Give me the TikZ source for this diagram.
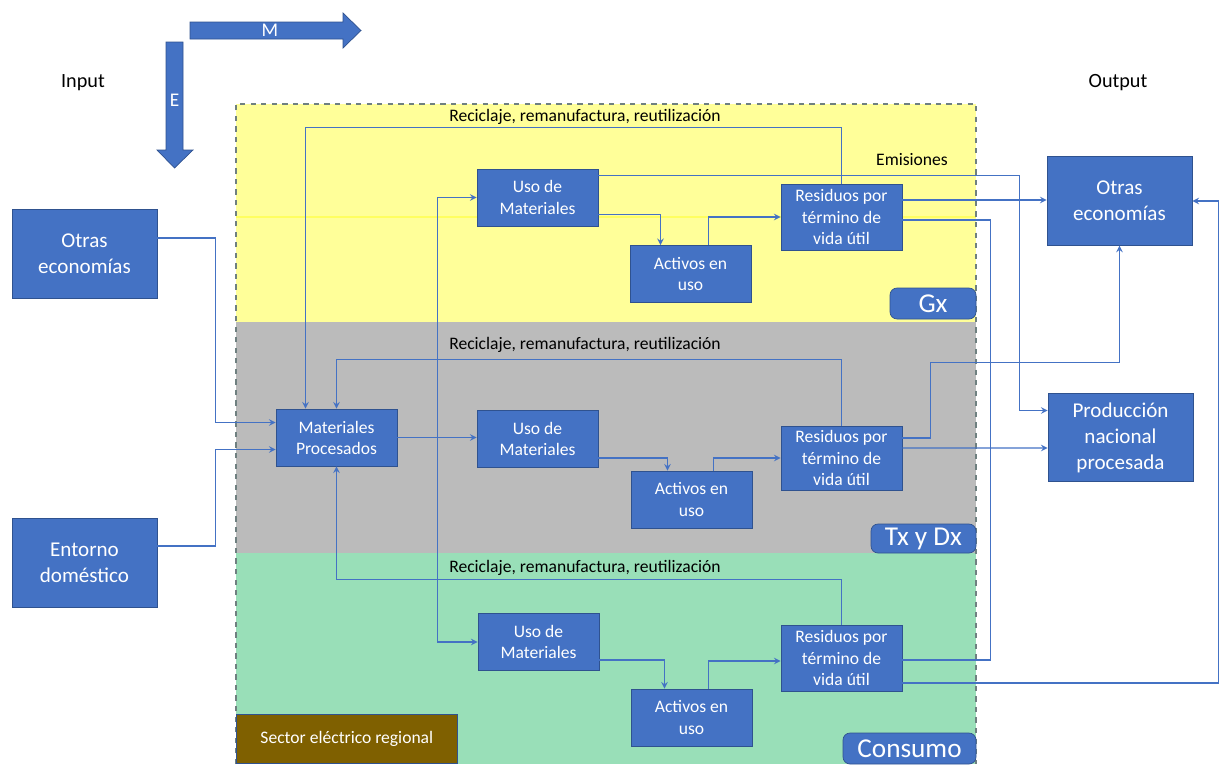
\documentclass[tikz,border=0pt]{standalone}
\usepackage{fontspec}
\setmainfont{Carlito}
\usetikzlibrary{arrows, calc, positioning}
\definecolor{boxblue}{HTML}{4472C4}
\definecolor{boxborder}{HTML}{2F528F}
\definecolor{bandyellow}{HTML}{FFFF99}
\definecolor{bandgray}{HTML}{BBBBBB}
\definecolor{bandgreen}{HTML}{99DFB8}
\definecolor{sectorbrown}{HTML}{7F6000}
\definecolor{dashgray}{HTML}{6F8080}
\definecolor{bandline}{HTML}{FFFF60}
\tikzset{
    proc/.style={draw=boxborder, fill=boxblue, text=white, align=center, inner sep=1pt,
        minimum width=2.42cm, minimum height=1.14cm, font=\fontsize{10}{12}\selectfont}, % cajas de proceso
    ext/.style={draw=boxborder, fill=boxblue, text=white, align=center, inner sep=1pt,
        minimum width=2.9cm, minimum height=1.77cm, font=\fontsize{12}{14.8}\selectfont}, % entradas y salidas
    tag/.style={draw=boxborder, fill=boxblue, text=white, rounded corners=4pt, inner sep=0pt,
        font=\fontsize{15.5}{18}\selectfont}, % etiquetas de los sectores
    reci/.style={font=\fontsize{10}{12}\selectfont},
}
\tikzstyle{flow} = [draw=boxblue, line width=0.7pt, ->, >=stealth]
\tikzstyle{link} = [draw=boxblue, line width=0.7pt]

\begin{document}
\begin{tikzpicture}[x=0.02cm, y=-0.02cm]
    \useasboundingbox (0,0) rectangle (1219,764);

    % Franjas del sector electrico
    \fill[bandyellow] (236,104) rectangle (976,322);
    \fill[bandgray] (236,322) rectangle (976,553);
    \fill[bandgreen] (236,553) rectangle (976,764);
    \draw[bandline, line width=0.6pt] (236,217) -- (976,217);
    \draw[dashgray, dashed, line width=0.8pt] (236,764) -- (236,104) -- (976,104) -- (976,764);

    % Flechas M y E
    \filldraw[fill=boxblue, draw=boxborder] (190,22) -- (343,22) -- (343,13) -- (361,30.5)
        -- (343,48) -- (343,39) -- (190,39) -- cycle;
    \node[text=white, font=\fontsize{11}{13}\selectfont] (mlabel) at (270,30.5) {M};
    \filldraw[fill=boxblue, draw=boxborder] (166,42) -- (183,42) -- (183,150) -- (193,150)
        -- (174.5,168) -- (157,150) -- (166,150) -- cycle;
    \node[text=white, font=\fontsize{11}{13}\selectfont] (elabel) at (174.5,100) {E};

    \node[font=\fontsize{11.5}{14}\selectfont] (input) at (83,83) {Input};
    \node[font=\fontsize{11.5}{14}\selectfont] (output) at (1118,83) {Output};

    % Entradas y salidas
    \node[ext] (otrasIn) at (84.5,254) {Otras\\economías};
    \node[ext] (entorno) at (84.5,563) {Entorno\\doméstico};
    \node[ext] (otrasOut) at (1119.5,201) {Otras\\economías};
    \node[ext] (prodNac) at (1120.5,437.5) {Producción\\nacional\\procesada};

    % Gx
    \node[proc] (usoG) at (537.5,197.5) {Uso de\\Materiales};
    \node[proc] (actG) at (690.5,274) {Activos en\\uso};
    \node[proc, minimum height=1.32cm] (resG) at (841.5,217) {Residuos por\\término de\\vida útil};
    \node[reci] (reciG) at (585,117) {Reciclaje, remanufactura, reutilización};
    \node[reci] (emis) at (912,160) {Emisiones};
    \node[tag, minimum width=1.72cm, minimum height=0.62cm] (gx) at (933,303.5) {Gx};

    % Tx y Dx
    \node[proc] (matProc) at (336.5,437.5) {Materiales\\Procesados};
    \node[proc] (usoT) at (537.5,439) {Uso de\\Materiales};
    \node[proc] (actT) at (691.5,499.5) {Activos en\\uso};
    \node[proc, minimum height=1.28cm] (resT) at (841.5,458) {Residuos por\\término de\\vida útil};
    \node[reci] (reciT) at (585,345) {Reciclaje, remanufactura, reutilización};
    \node[tag, minimum width=2.1cm, minimum height=0.58cm] (txdx) at (923.5,538.5) {Tx y Dx};

    % Consumo
    \node[proc] (usoC) at (538.5,642) {Uso de\\Materiales};
    \node[proc] (actC) at (691.5,717.5) {Activos en\\uso};
    \node[proc, minimum height=1.32cm] (resC) at (841.5,658) {Residuos por\\término de\\vida útil};
    \node[reci] (reciC) at (585,568) {Reciclaje, remanufactura, reutilización};
    \node[tag, minimum width=2.66cm, minimum height=0.62cm] (consumo) at (909.5,748.5) {Consumo};
    \node[draw=boxborder, fill=sectorbrown, text=white, anchor=south west, minimum width=4.42cm,
        minimum height=0.98cm, font=\fontsize{10}{12}\selectfont] (sector) at (236,764) {Sector eléctrico regional};

    % Entradas a materiales procesados
    \draw[flow] ($(otrasIn.east)+(0,-16)$) -| ($(matProc.west)+(-60,-15)$) -- ($(matProc.west)+(0,-15)$);
    \draw[flow] ($(entorno.east)+(0,-17)$) -| ($(matProc.west)+(-60,12)$) -- ($(matProc.west)+(0,12)$);
    \draw[flow] (matProc.east) -- (matProc.east -| usoT.west);
    \coordinate (split) at ($(matProc.east)+(40,0)$);
    \draw[flow] (split) |- (usoG.west);
    \draw[flow] (split) |- (usoC.west);

    % Cadenas uso - activos - residuos
    \draw[flow] ($(usoG.east)+(0,17)$) -| ($(actG.north)+(-30,0)$);
    \draw[flow] ($(actG.north)+(18,0)$) |- (resG.west);
    \draw[flow] ($(usoT.east)+(0,19)$) -| ($(actT.north)+(-24,0)$);
    \draw[flow] ($(actT.north)+(22,0)$) |- (resT.west);
    \draw[flow] ($(usoC.east)+(0,18)$) -| ($(actC.north)+(-27,0)$);
    \draw[flow] ($(actC.north)+(17,0)$) |- ($(resC.west)+(0,3)$);

    % Reciclaje
    \draw[flow] (resG.north) -- ++(0,-56) -| ($(matProc.north)+(-31,0)$);
    \draw[flow] (resT.north) -- ++(0,-66) -| (matProc.north);
    \draw[flow] (resC.north) -- ++(0,-45) -| (matProc.south);

    % Salidas
    \draw[flow] ($(usoG.north east)+(0,7)$) -| ($(prodNac.west)+(-28,-27)$) -- ($(prodNac.west)+(0,-27)$);
    \draw[flow] ($(resG.east)+(0,-17)$) -- ($(otrasOut.west)+(0,-1)$);
    \draw[link] ($(resG.east)+(0,3)$) -- ++(88,0) |- ($(resC.east)+(0,2)$);
    \draw[flow] ($(resC.east)+(0,25)$) -- ++(316,0) |- (otrasOut.east);
    \draw[flow] ($(resT.east)+(0,-20)$) -- ++(28,0) |- ($(otrasOut.south)+(0,117)$) -- (otrasOut.south);
    \draw[flow] ($(resT.east)+(0,-10)$) -- ($(prodNac.west)+(0,10.5)$);
\end{tikzpicture}
\end{document}
